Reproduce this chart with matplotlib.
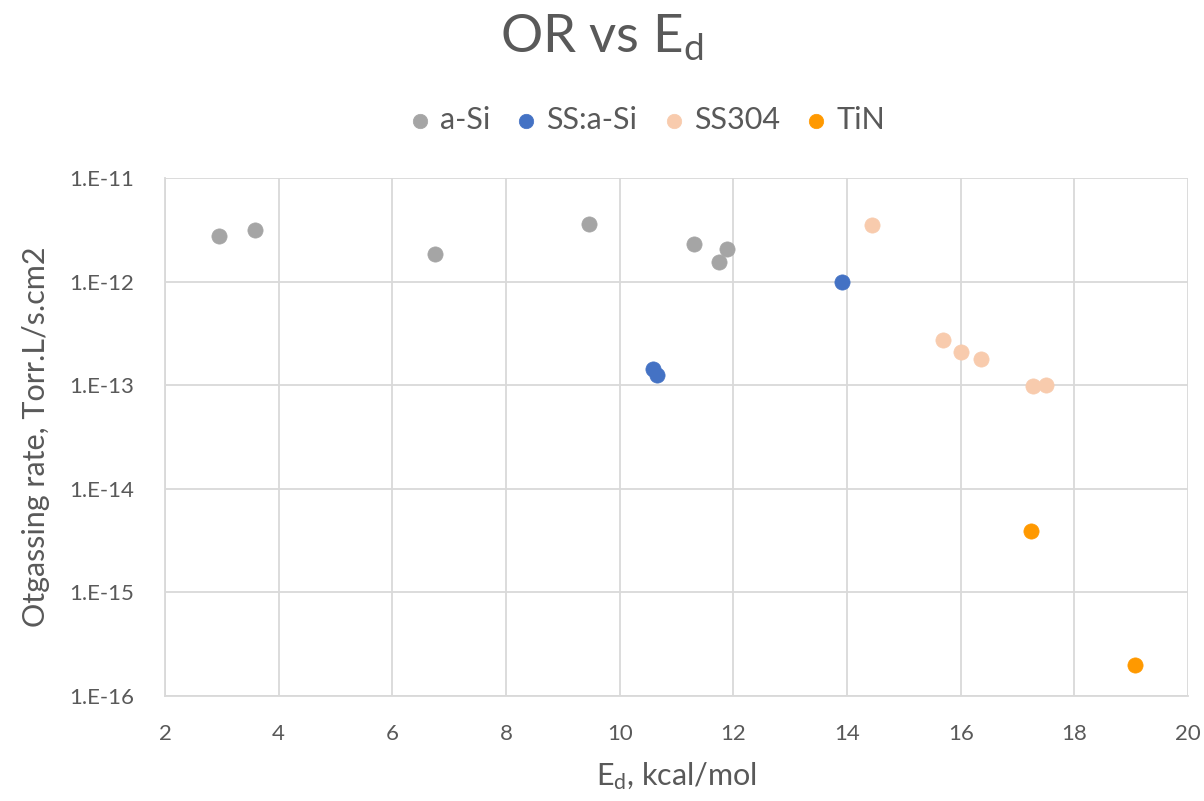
import math
import matplotlib
matplotlib.use("Agg")
import matplotlib.pyplot as plt
from matplotlib.ticker import FixedLocator, FuncFormatter, NullLocator

plt.rcParams['font.family'] = ['Lato', 'DejaVu Sans']
plt.rcParams['mathtext.fontset'] = 'custom'
plt.rcParams['mathtext.rm'] = 'Lato'
plt.rcParams['mathtext.it'] = 'Lato'

# Data
asi_x = [2.95, 3.58, 6.75, 9.46, 11.31, 11.89, 11.75]
asi_y = [2.75e-12, 3.15e-12, 1.85e-12, 3.6e-12, 2.33e-12, 2.08e-12, 1.53e-12]
ssasi_x = [10.58, 10.66, 13.92]
ssasi_y = [1.44e-13, 1.25e-13, 9.9e-13]
ss304_x = [14.44, 15.69, 16.0, 16.36, 17.27, 17.5]
ss304_y = [3.5e-12, 2.73e-13, 2.1e-13, 1.78e-13, 9.9e-14, 1.0e-13]
tin_x = [17.24, 19.07]
tin_y = [3.9e-15, 2.0e-16]

series = [
    ("a-Si", asi_x, asi_y, "#A5A5A5"),
    ("SS:a-Si", ssasi_x, ssasi_y, "#4472C4"),
    ("SS304", ss304_x, ss304_y, "#F8CBAD"),
    ("TiN", tin_x, tin_y, "#FF9900"),
]

yticks = [1e-16, 1e-15, 1e-14, 1e-13, 1e-12, 1e-11]
xticks = [2, 4, 6, 8, 10, 12, 14, 16, 18, 20]

txt = "#595959"
grid = "#D9D9D9"

fig = plt.figure(figsize=(12.04, 8.01), dpi=100)
ax = fig.add_axes([165/1204, 1-696/801, (1188-165)/1204, (696-178)/801])

for name, xs, ys, c in series:
    ax.scatter(xs, ys, s=120, color=c, label=name, zorder=3, edgecolors=c, linewidths=0.5)

ax.set_yscale('log')
ax.set_xlim(2, 20)
ax.set_ylim(1e-16, 1e-11)
ax.yaxis.set_major_locator(FixedLocator(yticks))
ax.yaxis.set_minor_locator(NullLocator())
ax.yaxis.set_major_formatter(FuncFormatter(lambda v, p: "1.E%d" % round(math.log10(v))))
ax.set_xticks(xticks)
ax.grid(True, color=grid, linewidth=1.3, zorder=0)
ax.set_axisbelow(True)
for s in ['top', 'right']:
    ax.spines[s].set_visible(False)
for s in ['left', 'bottom']:
    ax.spines[s].set_color(grid)
    ax.spines[s].set_linewidth(1.3)
ax.tick_params(axis='both', length=0, labelsize=16, colors=txt)
ax.tick_params(axis='x', pad=20)
ax.tick_params(axis='y', pad=22)

ax.set_xlabel(r"E$_\mathrm{d}$, kcal/mol", fontsize=22, color=txt, labelpad=12)
ax.set_ylabel("Otgassing rate, Torr.L/s.cm2", fontsize=22, color=txt, labelpad=14)

fig.text(0.5, 1-38/801, r"OR vs E$_\mathrm{d}$", fontsize=38, color=txt, ha='center', va='center')

leg = fig.legend(loc='center', bbox_to_anchor=(0.538, 1-120/801), ncol=4, frameon=False,
                 fontsize=22, handlelength=0.6, handletextpad=0.35, columnspacing=0.9,
                 markerscale=0.95)
for t in leg.get_texts():
    t.set_color(txt)

fig.savefig("out.png", dpi=100)
